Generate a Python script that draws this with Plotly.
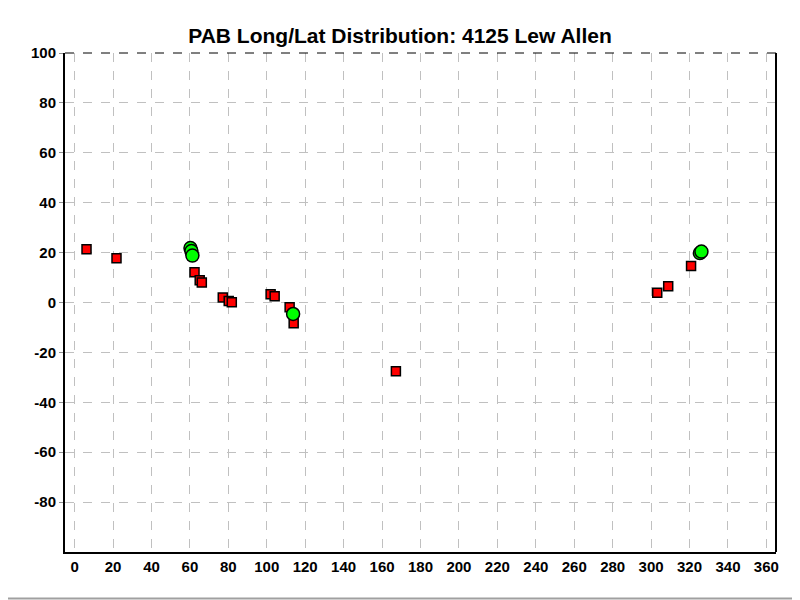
import plotly.graph_objects as go

# Data
red_lon = [6.2, 21.8, 62.4, 65.1, 66.2, 77.1, 80.2, 81.8, 102.0, 104.1, 111.9, 114.0, 167.2, 303.2, 308.9, 320.8]
red_lat = [21.3, 17.7, 12.1, 8.9, 8.0, 2.0, 0.6, 0.1, 3.3, 2.5, -1.9, -8.3, -27.6, 3.9, 6.5, 14.6]

green_lon = [60.3, 60.8, 61.3, 113.7, 325.4, 326.2]
green_lat = [21.8, 20.6, 18.8, -4.6, 19.8, 20.4]

x_ticks = list(range(0, 361, 20))
y_ticks = list(range(-80, 101, 20))

title_text = "PAB Long/Lat Distribution: 4125 Lew Allen"

# page body has an 8px offset; figure sized so it fits inside the 800x600 window
W, H = 792, 592
L, R, T, B = 57, 24, 45, 48
PW, PH = W - L - R, H - T - B

fig = go.Figure()
fig.add_trace(go.Scatter(
    x=red_lon, y=red_lat, mode="markers",
    marker=dict(symbol="square", size=9, color="#ff0000",
                line=dict(color="black", width=1.5)),
    showlegend=False, hoverinfo="x+y"))
fig.add_trace(go.Scatter(
    x=green_lon, y=green_lat, mode="markers",
    marker=dict(symbol="circle", size=13, color="#00ff00",
                line=dict(color="black", width=1.5)),
    showlegend=False, hoverinfo="x+y"))

font_family = "Liberation Sans, Arial, sans-serif"

fig.update_layout(
    width=W, height=H,
    margin=dict(l=L, r=R, t=T, b=B),
    paper_bgcolor="white", plot_bgcolor="white",
    title=dict(text="<b>" + title_text + "</b>", x=(400 - 8) / W, xanchor="center",
               y=1 - (36 - 8) / H, yanchor="middle",
               font=dict(family=font_family, size=21, color="black")),
    font=dict(family=font_family, color="black"),
    xaxis=dict(range=[-5, 365], tickvals=x_ticks, ticktext=[f"<b>{v}</b>" for v in x_ticks],
               showgrid=True, gridcolor="#c0c0c0", griddash="dash", gridwidth=1,
               zeroline=False, showline=True, linecolor="black", linewidth=2,
               ticks="", automargin=False,
               tickfont=dict(size=15, family=font_family, color="black")),
    yaxis=dict(range=[-100, 100], tickvals=y_ticks, ticktext=[f"<b>{v}</b>" for v in y_ticks],
               showgrid=True, gridcolor="#c0c0c0", griddash="dash", gridwidth=1,
               zeroline=False, showline=True, linecolor="black", linewidth=2,
               ticks="outside", ticklen=4, tickcolor="#909090", tickwidth=1,
               automargin=False,
               tickfont=dict(size=15, family=font_family, color="black")),
    shapes=[
        dict(type="line", xref="paper", yref="paper", x0=1, x1=1, y0=0, y1=1,
             line=dict(color="black", width=2)),
        dict(type="line", xref="paper", yref="paper", x0=0, x1=1, y0=1, y1=1,
             line=dict(color="black", width=1, dash="dash")),
        # gray window border at right and bottom of image
        dict(type="line", xref="paper", yref="paper",
             x0=(0 - L) / PW, x1=(W - L) / PW,
             y0=-(590.5 - (H - B)) / PH, y1=-(590.5 - (H - B)) / PH,
             line=dict(color="#a0a0a0", width=2)),
        dict(type="line", xref="paper", yref="paper",
             x0=(790.5 - L) / PW, x1=(790.5 - L) / PW,
             y0=-B / PH, y1=(H - B) / PH,
             line=dict(color="#a0a0a0", width=2)),
    ],
)

fig.write_html("out.html")
